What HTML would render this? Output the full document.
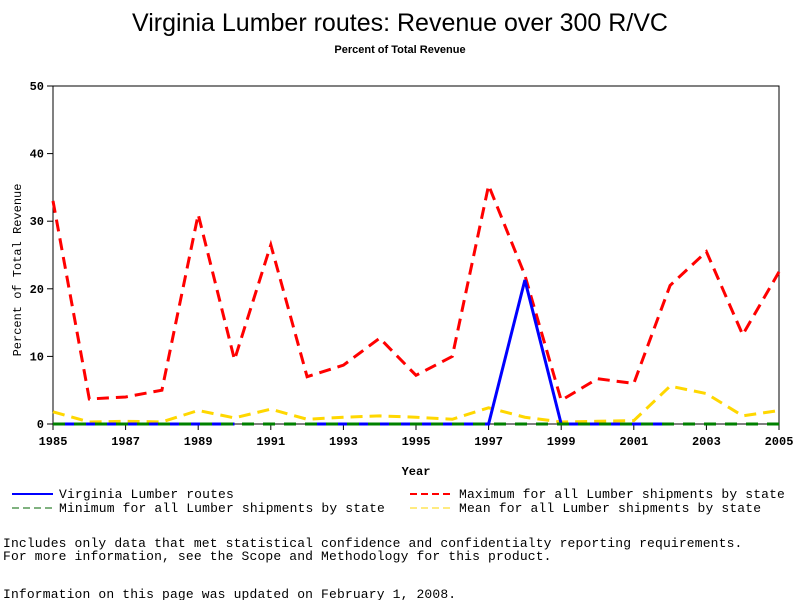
<!DOCTYPE html>
<html><head><meta charset="utf-8"><style>
body{margin:0;background:#fff;width:800px;height:600px;overflow:hidden}
svg{display:block}
</style></head><body>
<svg id="chart" width="800" height="600" xmlns="http://www.w3.org/2000/svg">
<text x="400" y="31" text-anchor="middle" font-family="Liberation Sans, sans-serif" font-size="25">Virginia Lumber routes: Revenue over 300 R/VC</text>
<text x="400" y="53" text-anchor="middle" font-family="Liberation Sans, sans-serif" font-size="11" font-weight="bold">Percent of Total Revenue</text>
<rect x="53" y="86" width="726" height="338" fill="none" stroke="#000" stroke-width="1"/>
<g id="axes"></g>
<g id="series"></g>
<text x="416" y="475" text-anchor="middle" font-family="Liberation Mono, monospace" font-size="12" font-weight="bold">Year</text>
<text transform="translate(21,270) rotate(-90)" text-anchor="middle" font-family="Liberation Mono, monospace" font-size="12">Percent of Total Revenue</text>
<g font-family="Liberation Mono, monospace" font-size="13" letter-spacing="0.15">
<g><line x1="12" y1="494" x2="53" y2="494" stroke="#0000ff" stroke-width="2"/><text x="59" y="498">Virginia Lumber routes</text></g>
<g><line x1="410" y1="494" x2="452" y2="494" stroke="#ff0000" stroke-width="2" stroke-dasharray="7,4"/><text x="459" y="498">Maximum for all Lumber shipments by state</text></g>
<g><line x1="12" y1="508" x2="53" y2="508" stroke="#006400" stroke-width="1" stroke-dasharray="7,4"/><text x="59" y="512">Minimum for all Lumber shipments by state</text></g>
<g><line x1="410" y1="508" x2="452" y2="508" stroke="#ffd700" stroke-width="1" stroke-dasharray="7,4"/><text x="459" y="512">Mean for all Lumber shipments by state</text></g>
<text x="3" y="547">Includes only data that met statistical confidence and confidentialty reporting requirements.</text>
<text x="3" y="560">For more information, see the Scope and Methodology for this product.</text>
<text x="3" y="598">Information on this page was updated on February 1, 2008.</text>
</g>
</svg>
<script>
const years=[1985,1986,1987,1988,1989,1990,1991,1992,1993,1994,1995,1996,1997,1998,1999,2000,2001,2002,2003,2004,2005];
const xTicks=[1985,1987,1989,1991,1993,1995,1997,1999,2001,2003,2005];
const yTicks=[0,10,20,30,40,50];
const virginia=[0,0,0,0,0,0,null,0,0,0,0,0,0,21.3,0,0,0,0,null,null,null];
const maximum=[33,3.7,4,5,31,9.5,26.5,7,8.7,12.7,7.2,10,35.3,22,3.5,6.7,6,20.5,25.5,13.2,22.5];
const minimum=[0,0,0,0,0,0,0,0,0,0,0,0,0,0,0,0,0,0,0,0,0];
const mean=[1.8,0.3,0.4,0.3,2,0.9,2.2,0.7,1,1.2,1,0.7,2.4,1,0.3,0.4,0.5,5.6,4.5,1.2,2];
const NS='http://www.w3.org/2000/svg';
const X=y=>53+(y-1985)*(726/20);
const Y=v=>424-v*(338/50);
const axes=document.getElementById('axes'),ser=document.getElementById('series');
function mk(t,a,p){const e=document.createElementNS(NS,t);for(const k in a)e.setAttribute(k,a[k]);p.appendChild(e);return e;}
xTicks.forEach(t=>{
 const l=mk('line',{x1:X(t),x2:X(t),y1:424,y2:430,stroke:'#000'},axes);
 
 
 const s=mk('text',{x:X(t),y:445,'text-anchor':'middle','font-family':'Liberation Mono, monospace','font-size':12,'font-weight':'bold'},axes);s.textContent=t;
 
 
});
yTicks.forEach(t=>{
 const l=mk('line',{x1:47,x2:53,y1:Y(t),y2:Y(t),stroke:'#000'},axes);
 
 
 const s=mk('text',{x:44,y:Y(t)+4,'text-anchor':'end','font-family':'Liberation Mono, monospace','font-size':12,'font-weight':'bold'},axes);s.textContent=t;
 
 
});
function draw(vals,color,w,dash,name){
 let segs=[],cur=[];
 vals.forEach((v,i)=>{if(v===null){if(cur.length)segs.push(cur);cur=[];}else cur.push(X(years[i])+','+Y(v));});
 if(cur.length)segs.push(cur);
 segs.forEach(s=>{if(s.length<2)return;
  const p=mk('polyline',{points:s.join(' '),fill:'none',stroke:color,'stroke-width':w},ser);
  if(dash)p.setAttribute('stroke-dasharray',dash);
  
  
 });
}
draw(maximum,'#ff0000',3,'12,7','series-maximum');
draw(mean,'#ffd700',3,'12,7','series-mean');
draw(virginia,'#0000ff',3,null,'series-virginia');
draw(minimum,'#008000',3,'12,9','series-minimum');
</script>
</body></html>
